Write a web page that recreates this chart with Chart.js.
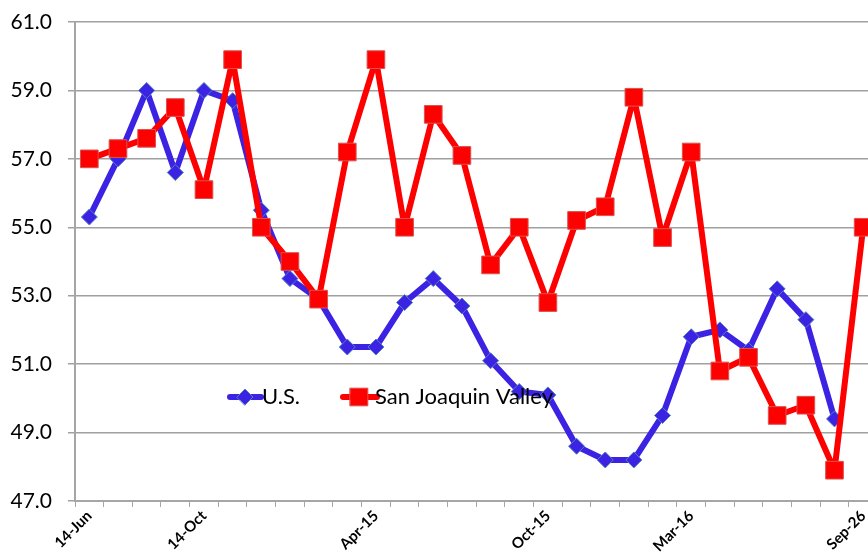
<!DOCTYPE html>
<html>
<head>
<meta charset="utf-8">
<script src="https://cdn.jsdelivr.net/npm/chart.js@4"></script>
<style>
html,body{margin:0;padding:0;background:#fff;overflow:hidden;}
#wrap{width:891px;height:555px;position:relative;}
</style>
</head>
<body>
<div id="wrap"><canvas id="c" width="891" height="555"></canvas></div>
<script>
const categories = ['14-Jun','','','','14-Oct','','','','','','Apr-15','','','','','','Oct-15','','','','','Mar-16','','','','','','Sep-26'];
const usValues = [55.3,57.0,59.0,56.6,59.0,58.7,55.5,53.5,52.9,51.5,51.5,52.8,53.5,52.7,51.1,50.2,50.1,48.6,48.2,48.2,49.5,51.8,52.0,51.4,53.2,52.3,49.4,null];
const sjvValues = [57.0,57.3,57.6,58.5,56.1,59.9,55.0,54.0,52.9,57.2,59.9,55.0,58.3,57.1,53.9,55.0,52.8,55.2,55.6,58.8,54.7,57.2,50.8,51.2,49.5,49.8,47.9,55.0];
const seriesNames = ['U.S.','San Joaquin Valley'];
const yTicks = [47,49,51,53,55,57,59,61];

const BLUE = '#3c22e2';
const RED = '#ff0000';
const FONT = 'Lato, "Open Sans", sans-serif';

const legendPlugin = {
  id: 'inlineLegend',
  afterDatasetsDraw(chart) {
    const ctx = chart.ctx;
    const items = [
      {x0: 230, x1: 261, mx: 245, tx: 262, ds: chart.data.datasets[0]},
      {x0: 343, x1: 377, mx: 359, tx: 375, ds: chart.data.datasets[1]}
    ];
    const y = 397;
    ctx.save();
    items.forEach(it => {
      ctx.strokeStyle = it.ds.borderColor;
      ctx.lineWidth = 6;
      ctx.lineCap = 'round';
      ctx.beginPath();
      ctx.moveTo(it.x0, y);
      ctx.lineTo(it.x1, y);
      ctx.stroke();
      ctx.fillStyle = it.ds.pointBackgroundColor;
      ctx.strokeStyle = it.ds.pointBorderColor;
      ctx.lineWidth = 1;
      Chart.helpers.drawPoint(ctx, {pointStyle: it.ds.pointStyle, rotation: 0, radius: it.ds.pointRadius, borderWidth: 1}, it.mx, y);
      ctx.fillStyle = '#000';
      ctx.font = '22px ' + FONT;
      ctx.textBaseline = 'middle';
      ctx.textAlign = 'left';
      ctx.fillText(it.ds.label, it.tx, y);
    });
    ctx.restore();
  }
};

new Chart(document.getElementById('c'), {
  type: 'line',
  data: {
    labels: categories,
    datasets: [
      {
        label: seriesNames[0],
        data: usValues,
        borderColor: BLUE,
        backgroundColor: BLUE,
        borderWidth: 6,
        borderJoinStyle: 'round',
        borderCapStyle: 'round',
        tension: 0,
        pointStyle: 'rectRot',
        pointRadius: 8,
        pointHoverRadius: 8,
        pointBackgroundColor: BLUE,
        pointBorderColor: '#4f81bd',
        pointBorderWidth: 1,
        order: 2
      },
      {
        label: seriesNames[1],
        data: sjvValues,
        borderColor: RED,
        backgroundColor: RED,
        borderWidth: 6,
        borderJoinStyle: 'round',
        borderCapStyle: 'round',
        tension: 0,
        pointStyle: 'rect',
        pointRadius: 12.5,
        pointHoverRadius: 12.5,
        pointBackgroundColor: RED,
        pointBorderColor: '#d9534f',
        pointBorderWidth: 1,
        order: 1
      }
    ]
  },
  options: {
    responsive: false,
    animation: false,
    events: [],
    layout: {padding: {top: 22, right: 0, left: 0, bottom: 0}},
    plugins: {legend: {display: false}, tooltip: {enabled: false}},
    scales: {
      x: {
        offset: true,
        grid: {display: true, drawOnChartArea: false, offset: true, color: '#a6a6a6', tickLength: 6, lineWidth: 1},
        border: {display: true, color: '#a6a6a6', width: 2},
        ticks: {autoSkip: false, maxRotation: 45, minRotation: 45, color: '#000', font: {family: FONT, size: 15, weight: 'bold'}, padding: 0},
        afterFit(scale) { scale.height = 54; scale.paddingTop = 0; scale.paddingBottom = 0; }
      },
      y: {
        min: 47, max: 61,
        afterBuildTicks(scale) { scale.ticks = yTicks.map(v => ({value: v})); },
        grid: {color: '#a0a0a0', lineWidth: 1.5, tickLength: 7, drawTicks: true},
        border: {display: true, color: '#a6a6a6', width: 2},
        ticks: {color: '#000', padding: 16, font: {family: FONT, size: 21}, callback: v => Number(v).toFixed(1)},
        afterFit(scale) { scale.width = 75; scale.paddingTop = 0; scale.paddingBottom = 0; }
      }
    }
  },
  plugins: [legendPlugin]
});
</script>
</body>
</html>
